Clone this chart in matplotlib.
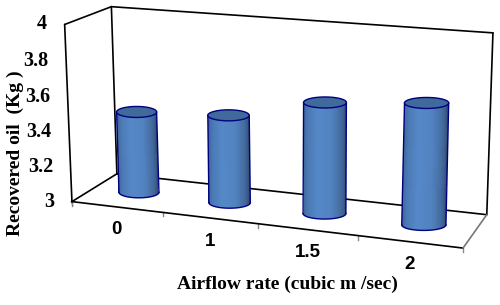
import numpy as np
import matplotlib
matplotlib.use("Agg")
import matplotlib.pyplot as plt
from matplotlib.colors import LinearSegmentedColormap

# chart data
categories = ["0", "1", "1.5", "2"]
recovered_oil = [3.47, 3.50, 3.62, 3.665]
y_ticks = [3, 3.2, 3.4, 3.6, 3.8, 4]
y_min, y_max = 3, 4

# box corners on the picture: (category pos, value fraction, depth) -> pixel
anchors = [
    ((0, 0, 0), (72, 200)), ((4, 0, 0), (463, 246)),
    ((0, 0, 1), (117, 174)), ((4, 0, 1), (487, 214)),
    ((0, 1, 0), (65, 24)), ((0, 1, 1), (111, 7)),
    ((4, 1, 1), (493, 33)),
    ((1, 0, 0), (163, 212)), ((2, 0, 0), (258, 227)), ((3, 0, 0), (358, 237)),
]

# fit a projection matrix to the anchors
rows, rhs = [], []
for (a, b, c), (px, py) in anchors:
    rows.append([a, b, c, 1, 0, 0, 0, 0, -px * a, -px * b, -px * c])
    rhs.append(px)
    rows.append([0, 0, 0, 0, a, b, c, 1, -py * a, -py * b, -py * c])
    rhs.append(py)
sol = np.linalg.lstsq(np.array(rows, float), np.array(rhs, float), rcond=None)[0]
P = np.append(sol, 1).reshape(3, 4)


def project(u, v, w):
    h = P @ np.array([u, v, w, 1.0])
    return h[0] / h[2], h[1] / h[2]


def frac(val):
    return (val - y_min) / (y_max - y_min)


def edge(ax, a, b, color="black", lw=1.2):
    xa, ya = project(*a)
    xb, yb = project(*b)
    ax.plot([xa, xb], [ya, yb], color=color, lw=lw, solid_capstyle="round", zorder=1)


fig = plt.figure(figsize=(5, 3.05), dpi=100)
ax = fig.add_axes([0, 0, 1, 1])
ax.set_xlim(0, 500)
ax.set_ylim(305, 0)
ax.axis("off")

# walls and floor
edge(ax, (0, 0, 0), (0, 1, 0))
edge(ax, (0, 1, 0), (0, 1, 1))
edge(ax, (0, 1, 1), (0, 0, 1))
edge(ax, (0, 1, 1), (4, 1, 1))
edge(ax, (4, 1, 1), (4, 0, 1))
edge(ax, (0, 0, 1), (4, 0, 1))
edge(ax, (0, 0, 0), (0, 0, 1))
edge(ax, (0, 0, 0), (4, 0, 0))
edge(ax, (4, 0, 0), (4, 0, 1), color="#777777")

# ticks and labels
for val in y_ticks:
    x, y = project(0, frac(val), 0)
    ax.text(x - 17.5, y, f"{val:g}", ha="right", va="center", fontsize=14.5,
            family="Liberation Serif", fontweight="bold")
x0, y0 = project(0, 0, 0)
ax.plot([x0 - 1, x0 + 1], [y0, y0 + 4], color="#aaaaaa", lw=1, zorder=0)

for i in range(len(categories) + 1):
    x, y = project(i, 0, 0)
    ax.plot([x, x], [y, y + 4], color="#888888", lw=1, zorder=0)

for i, lab in enumerate(categories):
    x, y = project(i + 0.5, 0, 0)
    ax.text(x, y + 23, lab, ha="center", va="center", fontsize=13.5,
            family="Liberation Sans", fontweight="bold")

ax.text(287.5, 284, "Airflow rate (cubic m /sec)", ha="center", va="center",
        fontsize=14, family="Liberation Serif", fontweight="bold")
ax.text(15.5, 153, "Recovered oil  (Kg )", ha="center", va="center", rotation=90,
        fontsize=14, family="Liberation Serif", fontweight="bold")

# cylinders
shade = LinearSegmentedColormap.from_list(
    "cyl", ["#3a5f90", "#4a78b2", "#5588c8", "#5283c0", "#43699c", "#2f4a70"])
theta = np.linspace(np.pi, 0, 61)
for i, val in enumerate(recovered_oil):
    xb, yb = project(i + 0.5, 0, 0.5)
    xt, yt = project(i + 0.5, frac(val), 0.5)
    rx = 20 + 0.7 * i
    ry = 5.5
    ex, ey = rx * np.cos(theta), ry * np.sin(theta)

    # inset a little so the mesh stays under the outline
    X = np.vstack([xt + ex * 0.975, xb + ex * 0.975])
    Y = np.vstack([yt + ey, yb + ey])
    C = np.linspace(0, 1, 60).reshape(1, -1)
    ax.pcolormesh(X, Y, C, cmap=shade, shading="flat", zorder=3)

    # side and bottom outline
    ax.plot(xb + ex, yb + ey, color="#000080", lw=1, zorder=4)
    ax.plot([xt - rx, xb - rx], [yt, yb], color="#000080", lw=1, zorder=4)
    ax.plot([xt + rx, xb + rx], [yt, yb], color="#000080", lw=1, zorder=4)

    # top ellipse
    t = np.linspace(0, 2 * np.pi, 81)
    ax.fill(xt + rx * np.cos(t), yt + ry * np.sin(t), facecolor="#3f6a9b",
            edgecolor="#000080", lw=1, zorder=5)

fig.savefig("out.png", dpi=100)
